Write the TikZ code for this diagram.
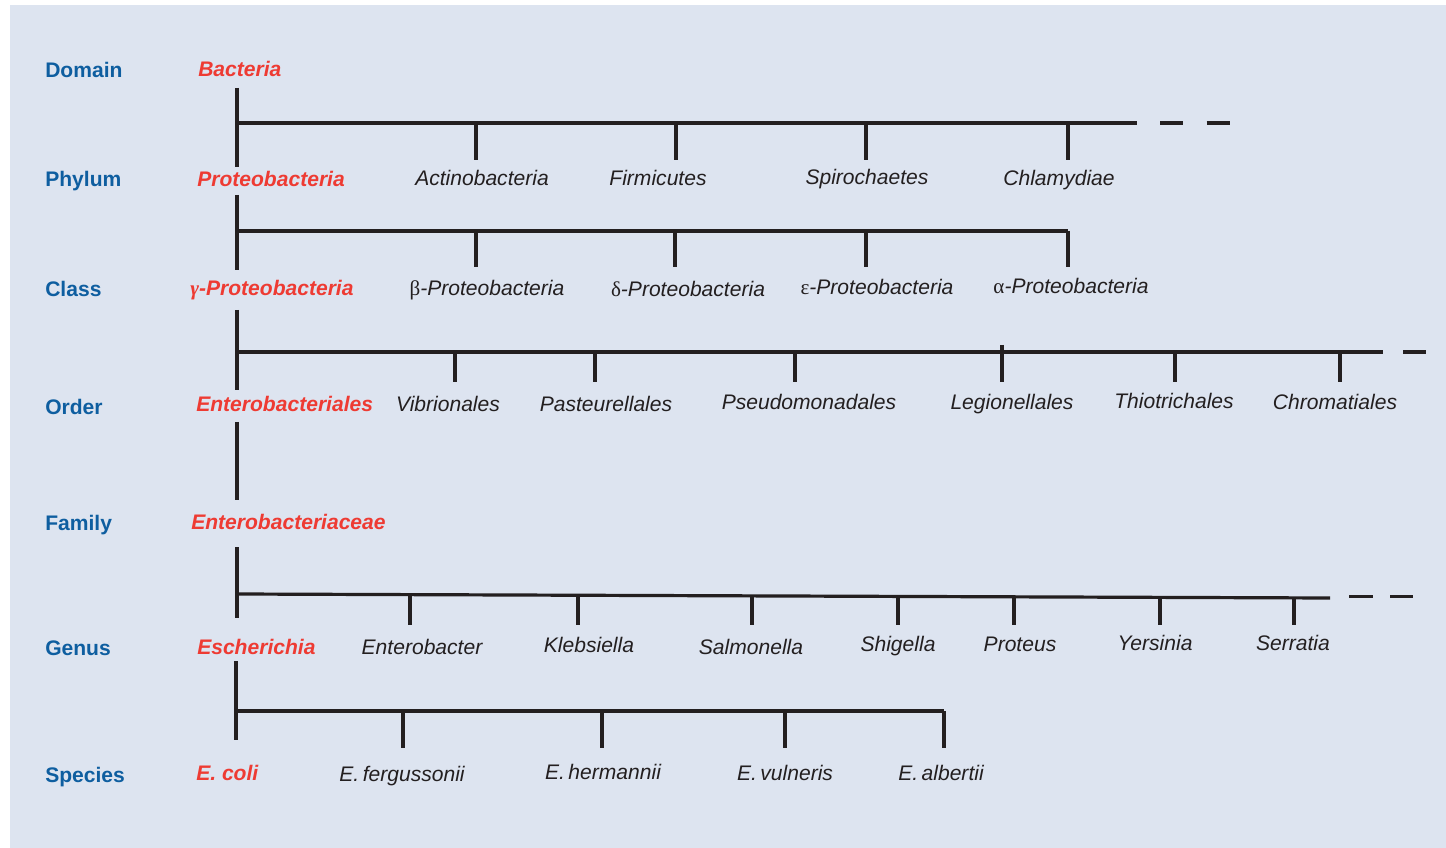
\documentclass[tikz,border=0pt]{standalone}
\usepackage{fontspec}
\setmainfont{Liberation Sans}
\newfontfamily\grk{Liberation Serif}
\definecolor{bg}{RGB}{221,228,240}
\definecolor{rankblue}{RGB}{14,94,160}
\definecolor{taxred}{RGB}{238,59,51}
\definecolor{ink}{RGB}{35,31,32}
\tikzset{
  rank/.style={anchor=base west, inner sep=0pt, text=rankblue, font=\fontsize{15.8}{19}\selectfont\bfseries},
  taxon/.style={anchor=base west, inner sep=0pt, text=taxred, font=\fontsize{15.8}{19}\selectfont\bfseries\itshape},
  other/.style={anchor=base, inner sep=0pt, text=ink, font=\fontsize{15.8}{19}\selectfont\itshape},
  branch/.style={draw=ink, line width=2.4pt},
  contd/.style={draw=ink, line width=2.4pt, dash pattern=on 17.5pt off 17.5pt}
}
\begin{document}
\begin{tikzpicture}[x=0.75pt,y=-0.75pt]
\useasboundingbox (0,0) rectangle (1446,848);
\fill[bg] (10,5) rectangle (1446,848);

% rank labels
\node[rank] (rDomain)  at (45,78)  {Domain};
\node[rank] (rPhylum)  at (45,187) {Phylum};
\node[rank] (rClass)   at (45,297) {Class};
\node[rank] (rOrder)   at (45,415) {Order};
\node[rank] (rFamily)  at (45,530) {Family};
\node[rank] (rGenus)   at (45,655) {Genus};
\node[rank] (rSpecies) at (45,782) {Species};

% lineage of E. coli
\node[taxon] (tBact)  at (198,77)  {Bacteria};
\node[taxon] (tProt)  at (197,187) {Proteobacteria};
\node[taxon] (tGamma) at (190,296) {{\grk γ}-Proteobacteria};
\node[taxon] (tEntO)  at (196,412) {Enterobacteriales};
\node[taxon] (tEntF)  at (191,529) {Enterobacteriaceae};
\node[taxon] (tEsch)  at (197,654) {Escherichia};
\node[taxon] (tColi)  at (196,780) {E. coli};

% phyla
\node[other] (pAct)  at (482,186) {Actinobacteria};
\node[other] (pFirm) at (658,186) {Firmicutes};
\node[other] (pSpir) at (867,185) {Spirochaetes};
\node[other] (pChl)  at (1059,186) {Chlamydiae};
% classes
\node[other] (cBeta)  at (487,296) {{\upshape\grk β}-Proteobacteria};
\node[other] (cDelta) at (688,297) {{\upshape\grk δ}-Proteobacteria};
\node[other] (cEps)   at (877,295) {{\upshape\grk ε}-Proteobacteria};
\node[other] (cAlpha) at (1071,294) {{\upshape\grk α}-Proteobacteria};
% orders
\node[other] (oVib) at (448,412)  {Vibrionales};
\node[other] (oPas) at (606,412)  {Pasteurellales};
\node[other] (oPse) at (809,410)  {Pseudomonadales};
\node[other] (oLeg) at (1012,410) {Legionellales};
\node[other] (oThi) at (1174,409) {Thiotrichales};
\node[other] (oChr) at (1335,410) {Chromatiales};
% genera
\node[other] (gEnt) at (422,654)  {Enterobacter};
\node[other] (gKle) at (589,652)  {Klebsiella};
\node[other] (gSal) at (751,654)  {Salmonella};
\node[other] (gShi) at (898,651)  {Shigella};
\node[other] (gPro) at (1020,651) {Proteus};
\node[other] (gYer) at (1155,650) {Yersinia};
\node[other] (gSer) at (1293,650) {Serratia};
% species
\node[other] (sFer) at (402,781) {E.\,fergussonii};
\node[other] (sHer) at (603,779) {E.\,hermannii};
\node[other] (sVul) at (785,780) {E.\,vulneris};
\node[other] (sAlb) at (941,780) {E.\,albertii};

% ---- Domain -> Phylum
\coordinate (a0) at (237,88);  \coordinate (a1) at (237,167);
\coordinate (ah0) at (237,123); \coordinate (ah1) at (1137,123);
\coordinate (ad0) at (1160,123); \coordinate (ad1) at (1230,123);
\draw[branch] (a0) -- (a1);
\draw[branch] (ah0) -- (ah1);
\draw[contd] (ad0) -- (ad1);
\foreach \x in {476,676,866,1068}
  \draw[branch] (\x,123) -- (\x,160);

% ---- Phylum -> Class
\coordinate (b0) at (237,195); \coordinate (b1) at (237,270);
\coordinate (bh0) at (237,231); \coordinate (bh1) at (1068,231);
\draw[branch] (b0) -- (b1);
\draw[branch] (bh0) -- (bh1);
\foreach \x in {476,675,866,1068}
  \draw[branch] (\x,231) -- (\x,267);

% ---- Class -> Order
\coordinate (c0) at (237,310); \coordinate (c1) at (237,390);
\coordinate (ch0) at (237,352); \coordinate (ch1) at (1383,352);
\coordinate (cd0) at (1403,352); \coordinate (cd1) at (1426,352);
\draw[branch] (c0) -- (c1);
\draw[branch] (ch0) -- (ch1);
\draw[branch] (cd0) -- (cd1);
\foreach \x in {455,595,795,1175,1340}
  \draw[branch] (\x,352) -- (\x,382);
\draw[branch] (1002,345) -- (1002,382);

% ---- Order -> Family
\coordinate (e0) at (237,422); \coordinate (e1) at (237,500);
\draw[branch] (e0) -- (e1);

% ---- Family -> Genus
\coordinate (f0) at (237,547); \coordinate (f1) at (237,618);
\coordinate (fh0) at (237,594); \coordinate (fh1) at (1330,598);
\draw[branch] (f0) -- (f1);
\draw[branch] (fh0) -- (fh1);
\draw[branch] (1349,596.5) -- (1373,596.5);
\draw[branch] (1390,596.5) -- (1413,596.5);
\foreach \x in {410,578,752,898,1014,1160,1294}
  \draw[branch] (\x,{594+4*(\x-237)/1093}) -- (\x,625);

% ---- Genus -> Species
\coordinate (g0) at (236,661); \coordinate (g1) at (236,740);
\coordinate (gh0) at (236,711); \coordinate (gh1) at (944,711);
\draw[branch] (g0) -- (g1);
\draw[branch] (gh0) -- (gh1);
\foreach \x in {403,602,785,944}
  \draw[branch] (\x,711) -- (\x,748);
\end{tikzpicture}
\end{document}
